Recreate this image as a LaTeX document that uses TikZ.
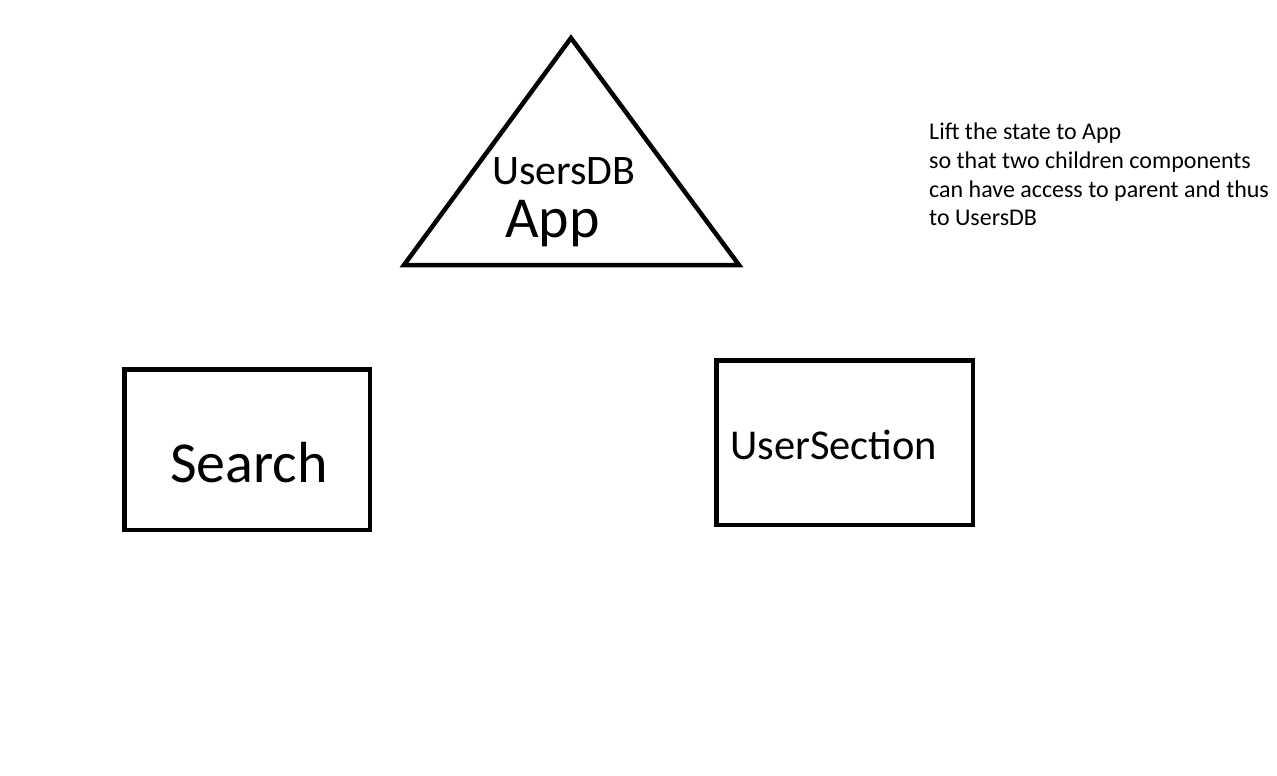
\documentclass[tikz,border=0pt]{standalone}
\usepackage{fontspec}
\setmainfont{Carlito}
\begin{document}
\begin{tikzpicture}[x=1pt,y=-1pt,
  shapeline/.style={draw=black,line width=4.5pt,line join=miter},
  lbl/.style={inner sep=0pt,anchor=base west,text=black}]
\useasboundingbox (0,0) rectangle (1277,776);
% triangle App
\draw[shapeline] (571,38) -- (739,265) -- (404,265) -- cycle;
\node[lbl,font=\fontsize{42}{50}\selectfont] (usersdb) at (492,184) {UsersDB};
\node[lbl,font=\fontsize{58}{70}\selectfont] (app) at (505,237) {App};
% Search box
\draw[shapeline] (124.5,369.5) rectangle (370,530);
\node[lbl,font=\fontsize{58}{70}\selectfont] (search) at (170,482) {Search};
% UserSection box
\draw[shapeline] (716.5,360.5) rectangle (973,525);
\node[lbl,font=\fontsize{42.5}{50}\selectfont] (usersection) at (730,459) {UserSection};
% note
\node[lbl,font=\fontsize{24}{29}\selectfont] (n1) at (929,139) {Lift the state to App};
\node[lbl,font=\fontsize{24}{29}\selectfont] (n2) at (929,168) {so that two children components};
\node[lbl,font=\fontsize{24}{29}\selectfont] (n3) at (929,197) {can have access to parent and thus};
\node[lbl,font=\fontsize{24}{29}\selectfont] (n4) at (929,225) {to UsersDB};
\end{tikzpicture}
\end{document}
